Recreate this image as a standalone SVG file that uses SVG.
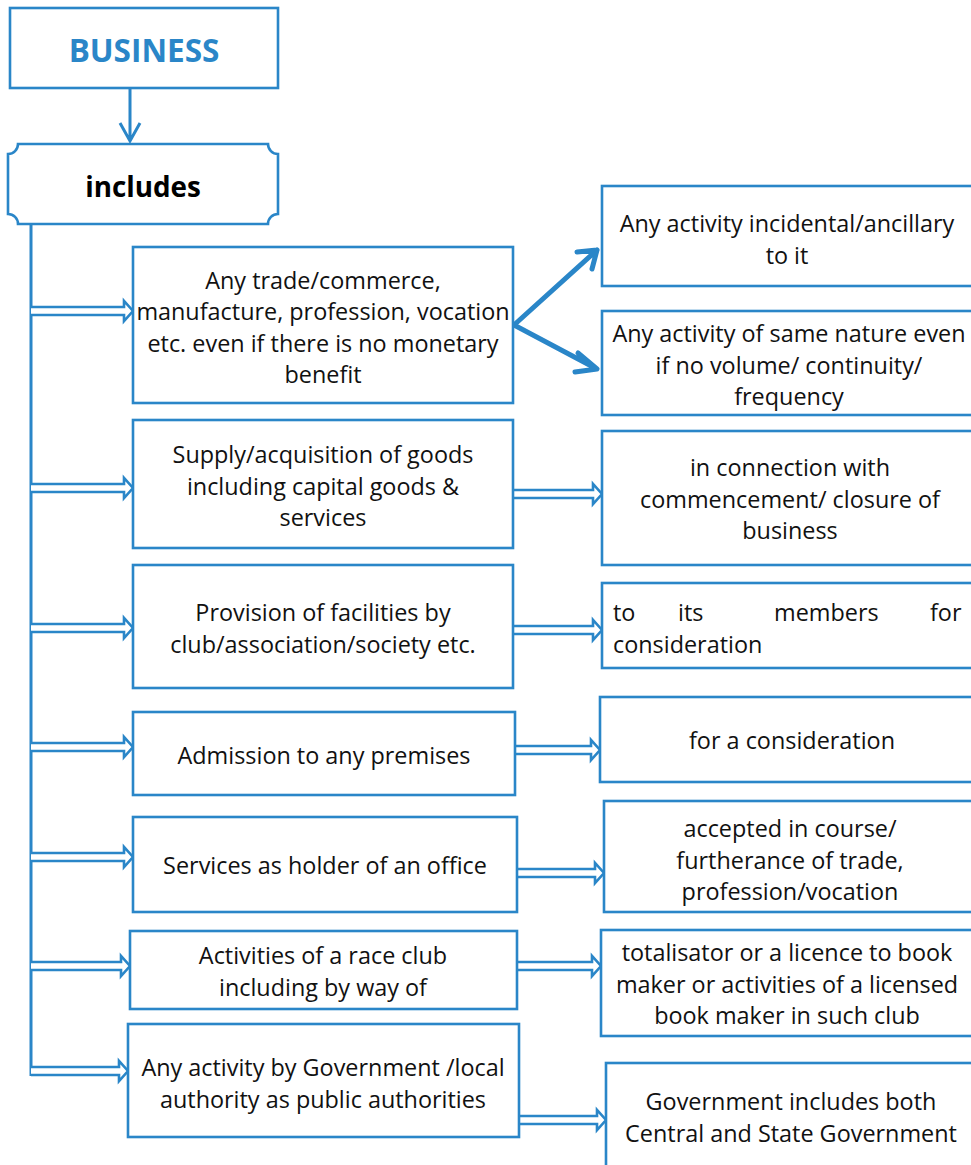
<svg xmlns="http://www.w3.org/2000/svg" width="971" height="1165" viewBox="0 0 971 1165">
<style>
.box{fill:#fff;stroke:#2a86c8;stroke-width:2.6}
.t{font-family:"Open Sans","Noto Sans","DejaVu Sans",sans-serif;font-size:23.4px;fill:#111;text-anchor:middle}
.l{text-anchor:start}
.title{font-family:"Open Sans","Noto Sans",sans-serif;font-weight:bold;font-size:31.5px;fill:#2a86c8;text-anchor:middle}
.inc{font-family:"Open Sans","Noto Sans",sans-serif;font-weight:bold;font-size:27.8px;fill:#000;text-anchor:middle}
.dbl{fill:#fff;stroke:#2a86c8;stroke-width:2.6;stroke-linejoin:miter}
.ln{fill:none;stroke:#2a86c8;stroke-width:3}
.bold{fill:none;stroke:#2a86c8;stroke-width:5;stroke-linecap:round;stroke-linejoin:round}
</style>
<rect width="971" height="1165" fill="#fff"/>
<g id="connectors">
<path class="ln" d="M130,88 V141 M120,123 L130,141 L140,123"/>
<path class="ln" d="M31,224 V1076"/>
<path class="dbl" d="M31,307 H124 V301 L133,311 L124,321 V315 H31"/>
<path class="dbl" d="M31,484 H124 V478 L133,488 L124,498 V492 H31"/>
<path class="dbl" d="M31,624 H124 V618 L133,628 L124,638 V632 H31"/>
<path class="dbl" d="M31,743 H124 V737 L133,747 L124,757 V751 H31"/>
<path class="dbl" d="M31,853 H124 V847 L133,857 L124,867 V861 H31"/>
<path class="dbl" d="M31,962 H121 V956 L130,966 L121,976 V970 H31"/>
<path class="dbl" d="M31,1067 H119 V1061 L128,1071 L119,1081 V1075 H31"/>
<path class="bold" d="M514,325 L597,250 M577,252 L597,250 L592,269"/>
<path class="bold" d="M514,325 L597,369 M578,353 L597,369 L575,372"/>
<path class="dbl" d="M513,490 H593 V484 L602,494 L593,504 V498 H513"/>
<path class="dbl" d="M513,626 H593 V620 L602,630 L593,640 V634 H513"/>
<path class="dbl" d="M515,746 H591 V740 L600,750 L591,760 V754 H515"/>
<path class="dbl" d="M517,869 H595 V863 L604,873 L595,883 V877 H517"/>
<path class="dbl" d="M517,962 H592 V956 L601,966 L592,976 V970 H517"/>
<path class="dbl" d="M519,1116 H597 V1110 L606,1120 L597,1130 V1124 H519"/>
</g>
<g id="business">
<rect class="box" x="10" y="8" width="268" height="80"/>
<text class="title" x="144" y="62">BUSINESS</text>
</g>
<g id="includes">
<path class="box" d="M18,144 H268 A10,10 0 0 0 278,154 V214 A10,10 0 0 0 268,224 H18 A10,10 0 0 0 8,214 V154 A10,10 0 0 0 18,144 Z"/>
<text class="inc" x="143" y="197">includes</text>
</g>
<g id="n1">
<rect class="box" x="133" y="247" width="380" height="156"/>
<text class="t" x="323" y="289"><tspan x="323">Any trade/commerce,</tspan><tspan x="323" dy="31.3">manufacture, profession, vocation</tspan><tspan x="323" dy="31.3">etc. even if there is no monetary</tspan><tspan x="323" dy="31.3">benefit</tspan></text>
</g>
<g id="n2">
<rect class="box" x="133" y="420" width="380" height="128"/>
<text class="t" x="323" y="463"><tspan x="323">Supply/acquisition of goods</tspan><tspan x="323" dy="31.5">including capital goods &amp;</tspan><tspan x="323" dy="31.5">services</tspan></text>
</g>
<g id="n3">
<rect class="box" x="133" y="565" width="380" height="123"/>
<text class="t" x="323" y="621"><tspan x="323">Provision of facilities by</tspan><tspan x="323" dy="31.5">club/association/society etc.</tspan></text>
</g>
<g id="n4">
<rect class="box" x="133" y="712" width="382" height="83"/>
<text class="t" x="324" y="764">Admission to any premises</text>
</g>
<g id="n5">
<rect class="box" x="133" y="817" width="384" height="95"/>
<text class="t" x="325" y="874">Services as holder of an office</text>
</g>
<g id="n6">
<rect class="box" x="130" y="931" width="387" height="78"/>
<text class="t" x="323" y="964"><tspan x="323">Activities of a race club</tspan><tspan x="323" dy="31.5">including by way of</tspan></text>
</g>
<g id="n7">
<rect class="box" x="128" y="1024" width="391" height="113"/>
<text class="t" x="323" y="1076"><tspan x="323">Any activity by Government /local</tspan><tspan x="323" dy="31.5">authority as public authorities</tspan></text>
</g>
<g id="r1">
<rect class="box" x="602" y="186" width="372" height="100"/>
<text class="t" x="787" y="232"><tspan x="787">Any activity incidental/ancillary</tspan><tspan x="787" dy="31.5">to it</tspan></text>
</g>
<g id="r2">
<rect class="box" x="602" y="311" width="372" height="104"/>
<text class="t" x="789" y="342"><tspan x="789">Any activity of same nature even</tspan><tspan x="789" dy="31.5">if no volume/ continuity/</tspan><tspan x="789" dy="31.5">frequency</tspan></text>
</g>
<g id="r3">
<rect class="box" x="602" y="431" width="372" height="134"/>
<text class="t" x="790" y="476"><tspan x="790">in connection with</tspan><tspan x="790" dy="31.5">commencement/ closure of</tspan><tspan x="790" dy="31.5">business</tspan></text>
</g>
<g id="r4">
<rect class="box" x="602" y="583" width="372" height="85"/>
<text class="t l" y="621"><tspan x="613">to</tspan><tspan x="678">its</tspan><tspan x="774">members</tspan><tspan x="930">for</tspan><tspan x="613" dy="31.5">consideration</tspan></text>
</g>
<g id="r5">
<rect class="box" x="600" y="697" width="374" height="85"/>
<text class="t" x="792" y="749">for a consideration</text>
</g>
<g id="r6">
<rect class="box" x="604" y="801" width="370" height="111"/>
<text class="t" x="790" y="837"><tspan x="790">accepted in course/</tspan><tspan x="790" dy="31.5">furtherance of trade,</tspan><tspan x="790" dy="31.5">profession/vocation</tspan></text>
</g>
<g id="r7">
<rect class="box" x="601" y="930" width="373" height="106"/>
<text class="t" x="787" y="961"><tspan x="787">totalisator or a licence to book</tspan><tspan x="787" dy="31.5">maker or activities of a licensed</tspan><tspan x="787" dy="31.5">book maker in such club</tspan></text>
</g>
<g id="r8">
<rect class="box" x="606" y="1063" width="368" height="110"/>
<text class="t" x="791" y="1110"><tspan x="791">Government includes both</tspan><tspan x="791" dy="31.5">Central and State Government</tspan></text>
</g>
</svg>
